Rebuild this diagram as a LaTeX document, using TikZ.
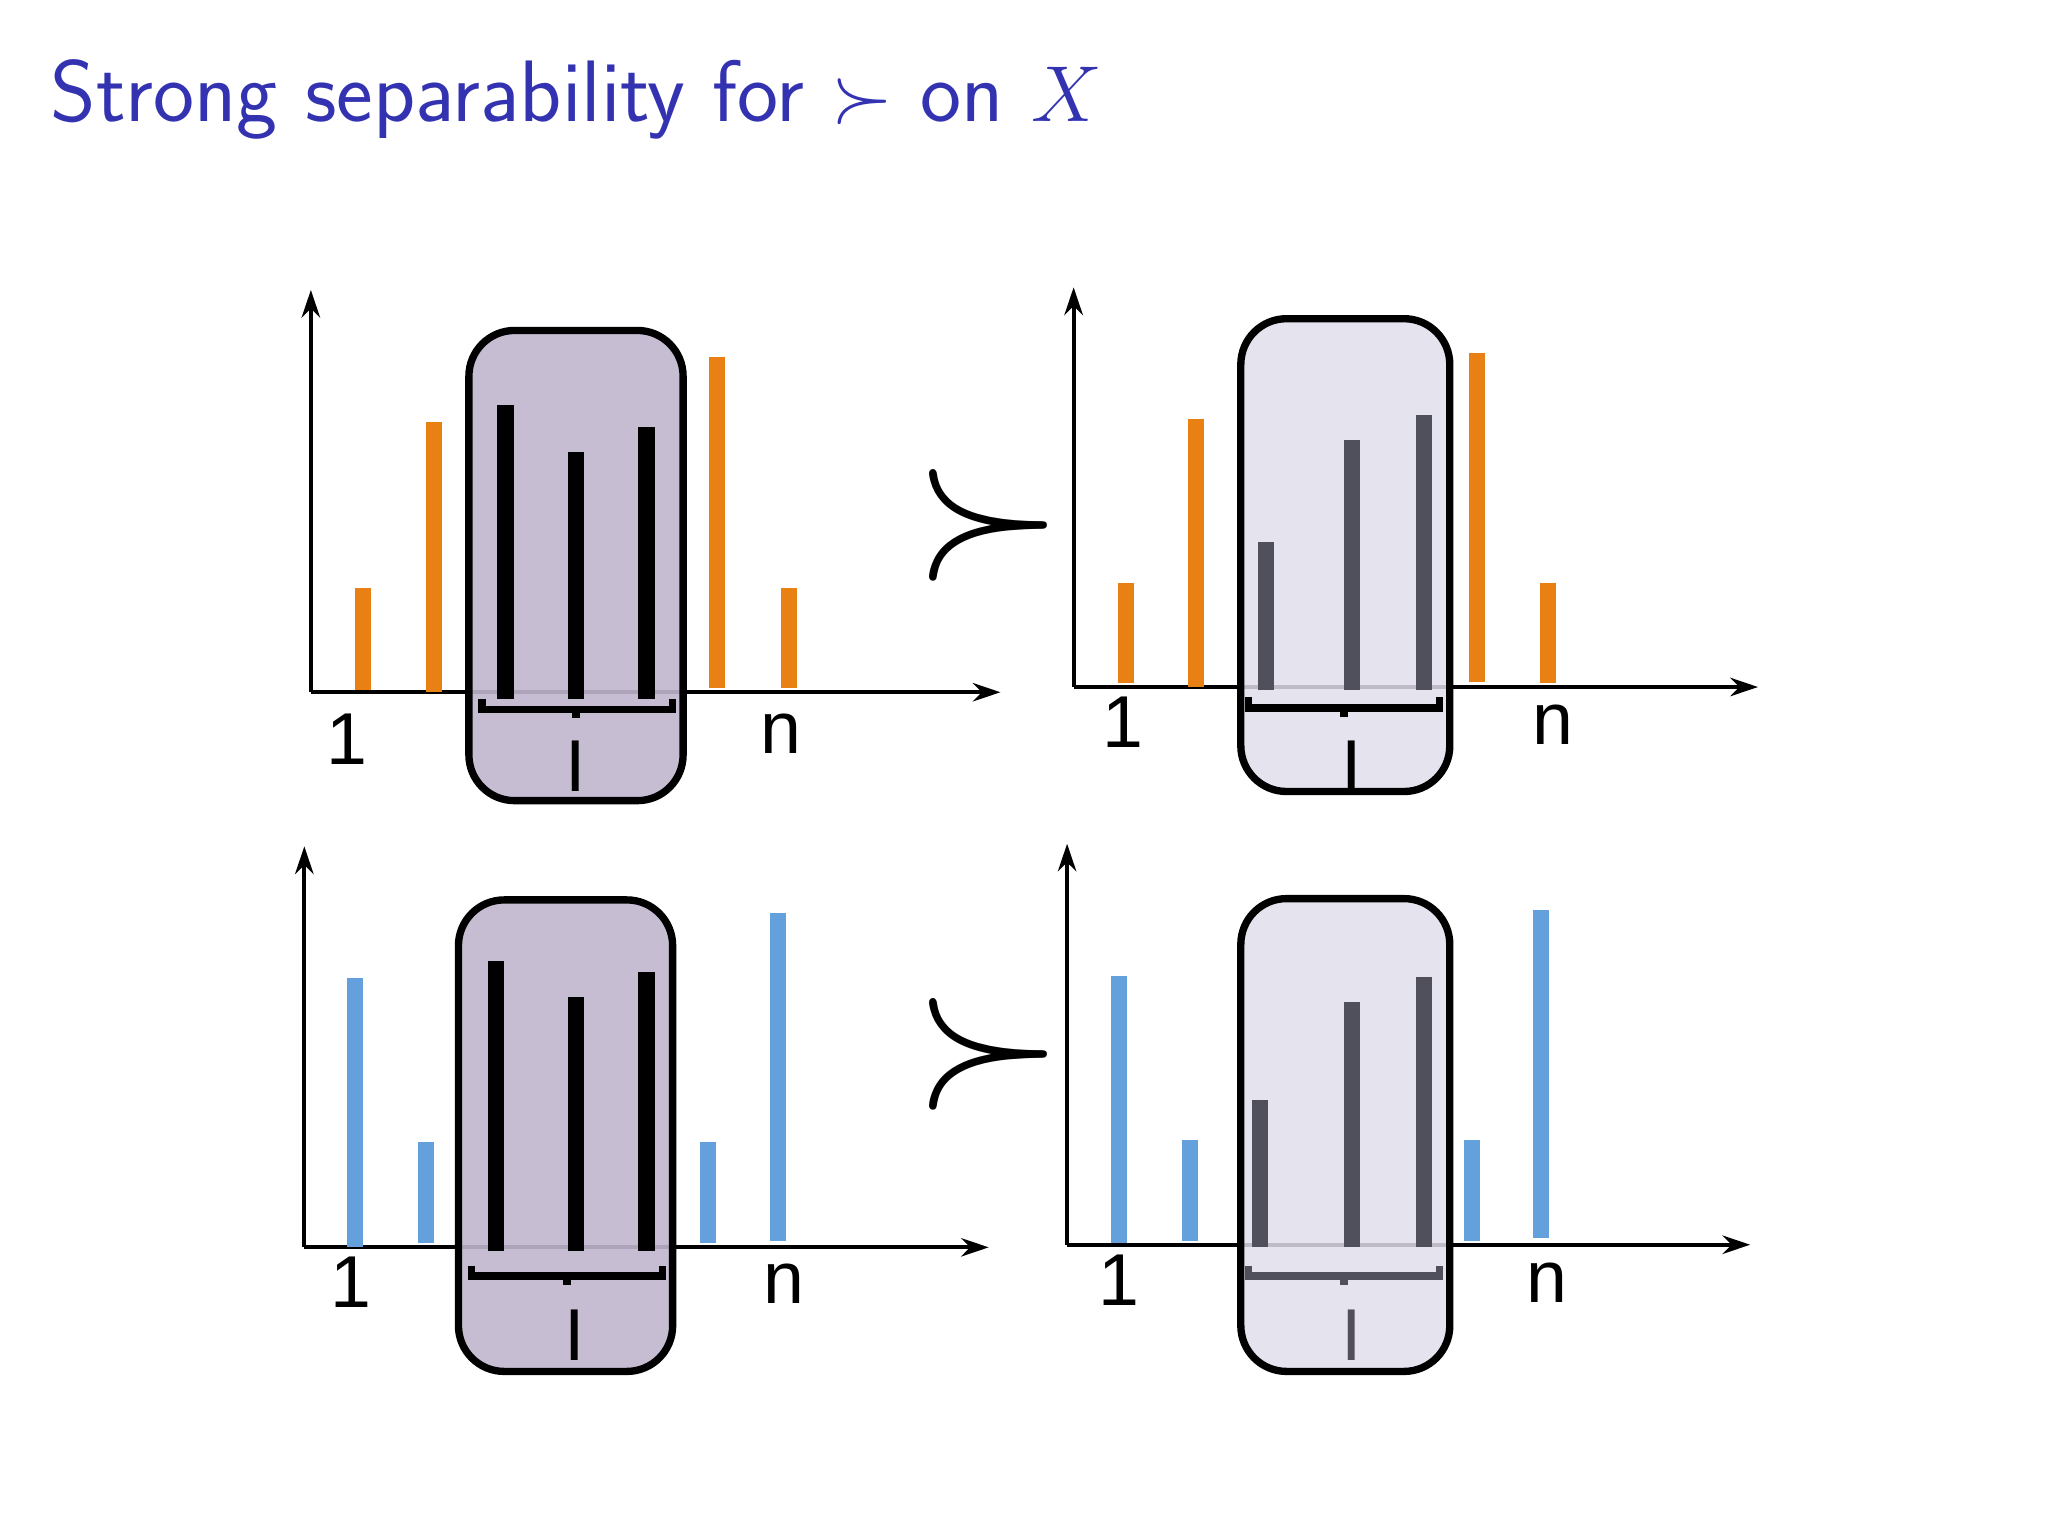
\documentclass[tikz,border=0pt]{standalone}
\usepackage{fontspec}
\newfontfamily\lab{Liberation Sans}
\usetikzlibrary{arrows.meta}
\definecolor{titleblue}{RGB}{51,51,178}
\definecolor{org}{RGB}{232,128,20}
\definecolor{blu}{RGB}{100,160,220}
\definecolor{darkbox}{RGB}{192,182,206}
\definecolor{lightbox}{RGB}{225,222,235}
\definecolor{gbar}{RGB}{80,80,92}
\tikzset{
 ax/.style={line width=0.9pt,-{Stealth[length=6pt,width=4pt]}},
 bar/.style={line width=3.5pt},
 box/.style={draw=black,line width=1.6pt,rounded corners=0.35cm},
 brk/.style={line width=1.6pt},
 lbl/.style={font=\lab\fontsize{16}{18}\selectfont},
}
\begin{document}
\begin{tikzpicture}[x=0.01cm,y=-0.01cm]
\useasboundingbox (0,0) rectangle (1568,1176);
\node[anchor=base west,text=titleblue,font=\sffamily\fontsize{19}{22}\selectfont,inner sep=0] (title) at (38,93) {Strong separability for $\succ$ on $X$};
% ---------- TL
\coordinate (o1) at (238,530);
\draw[ax] (o1) -- (238,222);
\draw[ax] (o1) -- (766,530);
\foreach \x/\t/\b in {278/450/528,332/323/530,549/273/527,604/450/527} \draw[bar,org] (\x,\t) -- (\x,\b);
\draw[box,fill=darkbox,fill opacity=0.9] (359,253) rectangle (523,613);
\foreach \x/\t in {387/310,441/346,495/327} \draw[bar,black] (\x,\t) -- (\x,535);
\draw[brk] (369,535) -- (369,543) -- (515,543) -- (515,535);
\draw[brk] (441,543) -- (441,550);
\node[lbl] (I1) at (441,587) {I};
\node[lbl] (a1) at (266,566) {1};
\node[lbl] (n1) at (598,562) {n};
% ---------- TR
\coordinate (o2) at (822,526);
\draw[ax] (o2) -- (822,220);
\draw[ax] (o2) -- (1346,526);
\foreach \x/\t/\b in {862/446/523,916/321/526,1131/270/522,1185/446/523} \draw[bar,org] (\x,\t) -- (\x,\b);
\draw[box,fill=lightbox,fill opacity=0.85] (950,244) rectangle (1110,606);
\foreach \x/\t in {969/415,1035/337,1090/318} \draw[bar,gbar] (\x,\t) -- (\x,528);
\draw[brk] (956,534) -- (956,542) -- (1102,542) -- (1102,534);
\draw[brk] (1029,542) -- (1029,549);
\node[lbl] (I2) at (1035,587) {I};
\node[lbl] (a2) at (860,553) {1};
\node[lbl] (n2) at (1189,555) {n};
% ---------- BL
\coordinate (o3) at (233,955);
\draw[ax] (o3) -- (233,648);
\draw[ax] (o3) -- (757,955);
\foreach \x/\t/\b in {272/749/955,326/874/952,542/874/952,596/699/950} \draw[bar,blu] (\x,\t) -- (\x,\b);
\draw[box,fill=darkbox,fill opacity=0.9] (351,689) rectangle (515,1050);
\foreach \x/\t in {380/736,441/763,495/744} \draw[bar,black] (\x,\t) -- (\x,958);
\draw[brk] (361,969) -- (361,977) -- (507,977) -- (507,969);
\draw[brk] (434,977) -- (434,984);
\node[lbl] (I3) at (440,1022) {I};
\node[lbl] (a3) at (269,982) {1};
\node[lbl] (n3) at (600,983) {n};
% ---------- BR
\coordinate (o4) at (817,953);
\draw[ax] (o4) -- (817,646);
\draw[ax] (o4) -- (1340,953);
\foreach \x/\t/\b in {857/747/952,911/873/950,1127/873/950,1180/697/948} \draw[bar,blu] (\x,\t) -- (\x,\b);
\draw[box,fill=lightbox,fill opacity=0.85] (950,688) rectangle (1110,1050);
\foreach \x/\t in {965/842,1035/767,1090/748} \draw[bar,gbar] (\x,\t) -- (\x,955);
\draw[brk,gbar] (956,969) -- (956,977) -- (1102,977) -- (1102,969);
\draw[brk,gbar] (1029,977) -- (1029,984);
\node[lbl,text=gbar] (I4) at (1035,1022) {I};
\node[lbl] (a4) at (857,980) {1};
\node[lbl] (n4) at (1184,982) {n};
% succ
\node (s1) at (757,402) {\scalebox{4.2}{$\succ$}};
\node (s2) at (757,807) {\scalebox{4.2}{$\succ$}};
\end{tikzpicture}
\end{document}
